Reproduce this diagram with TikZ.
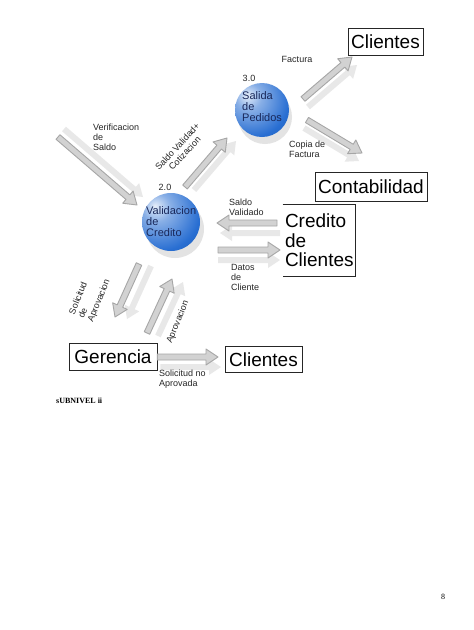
\documentclass[tikz,border=0pt]{standalone}
\usepackage{fontspec}
\setmainfont{Liberation Serif}
\newfontfamily\arial{Liberation Sans}
\usetikzlibrary{calc, positioning}
\definecolor{azul}{RGB}{40,110,210}
\definecolor{tinta}{RGB}{25,40,90}
\newcommand{\grande}{\arial\fontsize{19}{19.5}\selectfont}
\newcommand{\chico}{\arial\fontsize{9}{10}\selectfont}
\newcommand{\esfera}{\arial\fontsize{11}{11}\selectfont}
\pgfdeclareradialshading{brillo}{\pgfpoint{-14bp}{14bp}}{%
  color(0bp)=(azul!12!white); color(12bp)=(azul!55!white);
  color(34bp)=(azul); color(62bp)=(azul!70!black); color(100bp)=(azul!70!black)}
\tikzset{
  caja/.style={rectangle, draw=black!85, line width=0.8pt,
    font=\grande, inner sep=0pt, align=center},
  proceso/.style={circle, minimum size=#1, inner sep=0pt,
    shading=brillo},
  proceso/.default=56pt,
  rotulo/.style={font=\chico, align=left, inner sep=0pt, text=black!85},
  texesf/.style={font=\esfera, align=left, inner sep=0pt, text=tinta},
  flujo/.style={draw=gray!70, fill=gray!35, line width=0.9pt, line join=round},
  sombra/.style={fill=gray!18}
}
% contorno de una flecha de bloque
\newcommand{\puntas}[2]{($(#1)!3pt!90:(#2)$) -- ($(h)!3pt!90:(#2)$) -- ($(h)!8pt!90:(#2)$) -- (#2)
  -- ($(h)!8pt!-90:(#2)$) -- ($(h)!3pt!-90:(#2)$) -- ($(#1)!3pt!-90:(#2)$) -- cycle}
\newcommand{\flecha}[3]{%
  \coordinate (h) at ($(#2)!12pt!(#1)$);
  \begin{scope}[transform canvas={shift={(#3)}}]
    \fill[sombra] \puntas{#1}{#2};
  \end{scope}
  \draw[flujo] \puntas{#1}{#2};
}
\begin{document}
\begin{tikzpicture}[x=1pt, y=-1pt]
  \useasboundingbox[fill=white] (0,0) rectangle (474,630);

  % Entidades externas
  \node[caja, minimum width=75pt, minimum height=27pt] (cli1) at (385.5,41.5) {Clientes};
  \node[caja, minimum width=112pt, minimum height=29pt] (conta) at (371,187) {Contabilidad};
  \node[caja, draw=none, minimum width=72pt, minimum height=71pt, text width=68pt, align=left] (cred) at (319,240.5) {Credito\\de\\Clientes};
  \draw[line width=0.8pt, draw=black!85] (cred.north west) -- (cred.north east) -- (cred.south east) -- (cred.south west);
  \node[caja, minimum width=88pt, minimum height=27pt] (geren) at (113,357) {Gerencia};
  \node[caja, minimum width=77pt, minimum height=26pt] (cli2) at (263.5,359.5) {Clientes};

  % Procesos
  \fill[gray!22] (175,229) circle (29pt);
  \node[proceso=58pt] (p2) at (171,222) {};
  \node[texesf, anchor=west] (t2) at (146,222) {Validacion\\de\\Credito};
  \node[rotulo] (n2) at (165,187) {2.0};

  \fill[gray!22] (265,117) circle (27pt);
  \node[proceso=54pt] (p3) at (262,110) {};
  \node[texesf, anchor=west] (t3) at (242,107) {Salida\\de\\Pedidos};
  \node[rotulo] (n3) at (249,78) {3.0};

  % Extremos de los flujos
  \coordinate (verA) at (58,137);  \coordinate (verB) at (137,205);
  \coordinate (svA) at (185,187);  \coordinate (svB) at (227,138);
  \coordinate (facA) at (303,99);  \coordinate (facB) at (352,57);
  \coordinate (copA) at (307,120); \coordinate (copB) at (362,153);
  \coordinate (salA) at (277,223); \coordinate (salB) at (217,223);
  \coordinate (datA) at (218,250); \coordinate (datB) at (280,250);
  \coordinate (solA) at (139,264); \coordinate (solB) at (115,317);
  \coordinate (aprA) at (147,333); \coordinate (aprB) at (172,279);
  \coordinate (noaB) at (218,357);

  % Flujos
  \flecha{verA}{verB}{6,-8}
  \flecha{svA}{svB}{9,3}
  \flecha{facA}{facB}{5,8}
  \flecha{copA}{copB}{-3,8}
  \flecha{salA}{salB}{3,10}
  \flecha{datA}{datB}{0,10}
  \flecha{solA}{solB}{12,2}
  \flecha{aprA}{aprB}{11,3}
  \flecha{geren.east}{noaB}{3,10}

  % Rotulos de los flujos
  \node[rotulo] (lfac) at (297,59) {Factura};
  \node[rotulo, anchor=north west] (lcop) at (289,141) {Copia de\\Factura};
  \node[rotulo, anchor=north west] (lver) at (93,124) {Verificacion\\de\\Saldo};
  \node[rotulo, align=center, rotate=47] (lsv) at (181,150) {Saldo Validad+\\Cotizacion};
  \node[rotulo, anchor=north west] (lsal) at (229,199) {Saldo\\Validado};
  \node[rotulo, anchor=north west] (ldat) at (231,264) {Datos\\de\\Cliente};
  \node[rotulo, rotate=68] (lsol) at (90,297) {Solicitud\\de\\Aprovacion};
  \node[rotulo, rotate=68] (lapr) at (178,322) {Aprovacion};
  \node[rotulo, anchor=north west] (lnoa) at (159,370) {Solicitud no\\Aprovada};

  % Pie de pagina
  \node[font=\bfseries\fontsize{8}{9}\selectfont, anchor=west, inner sep=0pt] (sub) at (56,401) {sUBNIVEL ii};
  \node[font=\fontsize{8}{9}\selectfont, inner sep=0pt] (pag) at (443,597) {8};
\end{tikzpicture}
\end{document}
